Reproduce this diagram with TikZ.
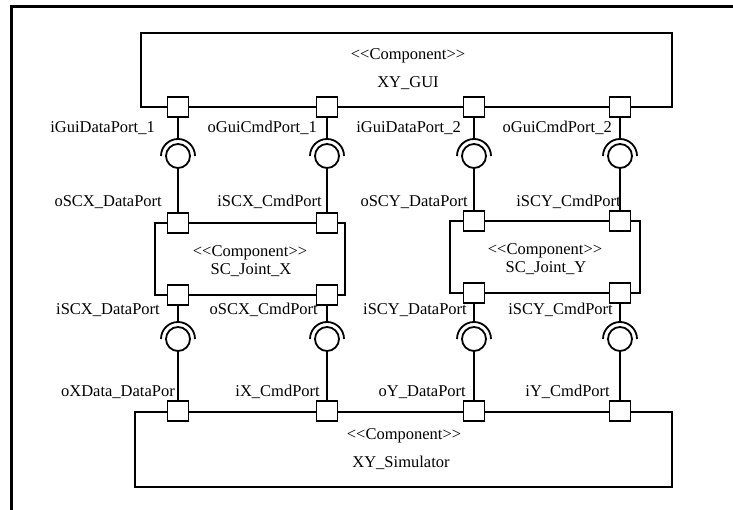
\documentclass[tikz,border=0pt]{standalone}
\usepackage{fontspec}
\setmainfont{Liberation Serif}
\begin{document}
\begin{tikzpicture}[x=1pt,y=-1pt,
  every node/.style={font=\fontsize{16.5}{19}\selectfont},
  comp/.style={draw, line width=1.8pt, inner sep=0pt},
  port/.style={draw, line width=1.8pt, fill=white, minimum width=21pt, minimum height=20pt, inner sep=0pt},
  ball/.style={draw, circle, line width=1.8pt, fill=white, minimum size=24pt, inner sep=0pt},
  wire/.style={line width=1.8pt},
  sock/.style={line width=1.8pt},
  lbl/.style={anchor=base east, inner sep=0pt},
  ctext/.style={anchor=base, inner sep=0pt},
  frame/.style={line width=2.5pt}]
\useasboundingbox (0,0) rectangle (733,510);
% outer frame (open to the right and bottom)
\coordinate (fa) at (11.5,520);
\coordinate (fb) at (11.5,6.5);
\coordinate (fc) at (740,6.5);
\draw[frame] (fa) -- (fb) -- (fc);
% components
\node[comp, minimum width=531pt, minimum height=74pt] (gui) at (406.5,70) {};
\node[comp, minimum width=190pt, minimum height=72pt] (scx) at (250,259) {};
\node[comp, minimum width=190pt, minimum height=72pt] (scy) at (545,257) {};
\node[comp, minimum width=537pt, minimum height=75pt] (sim) at (403.5,449.5) {};
\node[ctext] (guiS) at (408,60) {<\kern0pt<Component>\kern0pt>};
\node[ctext] (guiN) at (408,88) {XY\_GUI};
\node[ctext] (scxS) at (250,257) {<\kern0pt<Component>\kern0pt>};
\node[ctext] (scxN) at (251,275) {SC\_Joint\_X};
\node[ctext] (scyS) at (545,255) {<\kern0pt<Component>\kern0pt>};
\node[ctext] (scyN) at (546,273) {SC\_Joint\_Y};
\node[ctext] (simS) at (404,439) {<\kern0pt<Component>\kern0pt>};
\node[ctext] (simN) at (401,467) {XY\_Simulator};
% ports
\node[port] (gp1) at (178,107) {};
\node[port] (gp2) at (327,107) {};
\node[port] (gp3) at (474,107) {};
\node[port] (gp4) at (620,107) {};
\node[port] (xp1t) at (178,223) {};
\node[port] (xp2t) at (327,223) {};
\node[port] (xp1b) at (178,295) {};
\node[port] (xp2b) at (327,295) {};
\node[port] (yp1t) at (474,221) {};
\node[port] (yp2t) at (620,221) {};
\node[port] (yp1b) at (474,293) {};
\node[port] (yp2b) at (620,293) {};
\node[port] (sp1) at (178,411) {};
\node[port] (sp2) at (327,411) {};
\node[port] (sp3) at (474,411) {};
\node[port] (sp4) at (620,411) {};
% balls and socket tops
\node[ball] (ub1) at (178,156) {};
\node[ball] (ub2) at (327,156) {};
\node[ball] (ub3) at (474,156) {};
\node[ball] (ub4) at (620,156) {};
\node[ball] (lb1) at (178,339) {};
\node[ball] (lb2) at (327,339) {};
\node[ball] (lb3) at (474,339) {};
\node[ball] (lb4) at (620,339) {};
\coordinate (us1) at (178,139);
\coordinate (us2) at (327,139);
\coordinate (us3) at (474,139);
\coordinate (us4) at (620,139);
\coordinate (ls1) at (178,322);
\coordinate (ls2) at (327,322);
\coordinate (ls3) at (474,322);
\coordinate (ls4) at (620,322);
% connectors
\draw[wire] (gp1.south) -- (us1);
\draw[wire] (gp2.south) -- (us2);
\draw[wire] (gp3.south) -- (us3);
\draw[wire] (gp4.south) -- (us4);
\draw[wire] (ub1.south) -- (xp1t.north);
\draw[wire] (ub2.south) -- (xp2t.north);
\draw[wire] (ub3.south) -- (yp1t.north);
\draw[wire] (ub4.south) -- (yp2t.north);
\draw[wire] (xp1b.south) -- (ls1);
\draw[wire] (xp2b.south) -- (ls2);
\draw[wire] (yp1b.south) -- (ls3);
\draw[wire] (yp2b.south) -- (ls4);
\draw[wire] (lb1.south) -- (sp1.north);
\draw[wire] (lb2.south) -- (sp2.north);
\draw[wire] (lb3.south) -- (sp3.north);
\draw[wire] (lb4.south) -- (sp4.north);
% sockets
\foreach \b in {ub1,ub2,ub3,ub4,lb1,lb2,lb3,lb4}
  \draw[sock] ([xshift=17pt]\b.center) arc[start angle=0, end angle=-180, radius=17];
% labels
\node[lbl] (l11) at (155,133) {iGuiDataPort\_1};
\node[lbl] (l12) at (317,133) {oGuiCmdPort\_1};
\node[lbl] (l13) at (461,133) {iGuiDataPort\_2};
\node[lbl] (l14) at (612,133) {oGuiCmdPort\_2};
\node[lbl] (l21) at (162,207) {oSCX\_DataPort};
\node[lbl] (l22) at (322,207) {iSCX\_CmdPort};
\node[lbl] (l23) at (468,207) {oSCY\_DataPort};
\node[lbl] (l24) at (621,207) {iSCY\_CmdPort};
\node[lbl] (l31) at (160,315) {iSCX\_DataPort};
\node[lbl] (l32) at (318,315) {oSCX\_CmdPort};
\node[lbl] (l33) at (467,315) {iSCY\_DataPort};
\node[lbl] (l34) at (613,315) {iSCY\_CmdPort};
\node[lbl] (l41) at (175,396) {oXData\_DataPor};
\node[lbl] (l42) at (320,396) {iX\_CmdPort};
\node[lbl] (l43) at (466,396) {oY\_DataPort};
\node[lbl] (l44) at (610,396) {iY\_CmdPort};
\end{tikzpicture}
\end{document}
